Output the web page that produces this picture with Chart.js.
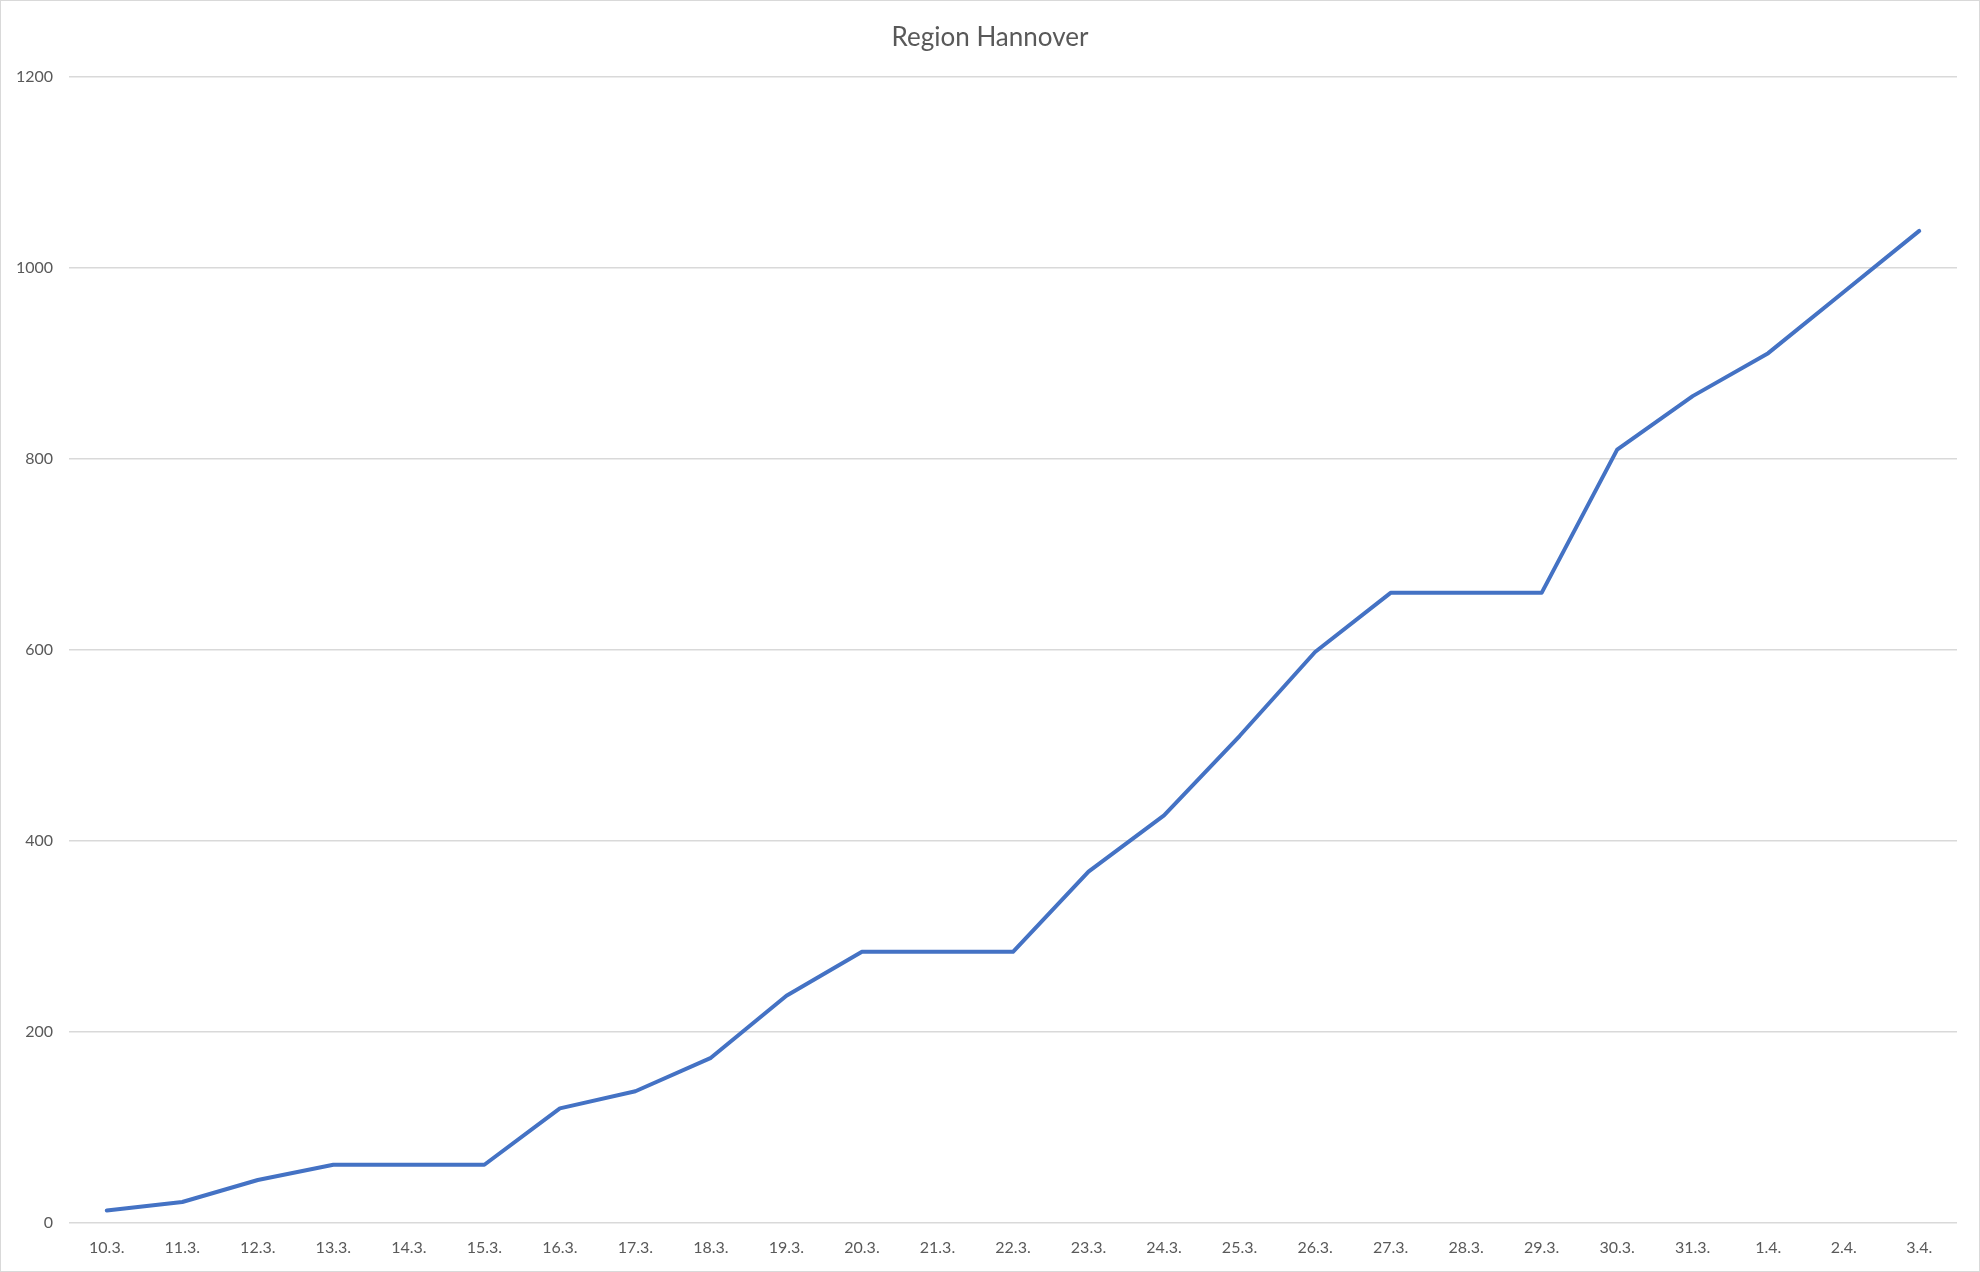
<!DOCTYPE html>
<html>
<head>
<meta charset="utf-8">
<script src="https://cdn.jsdelivr.net/npm/chart.js@4"></script>
<style>
  html, body { margin: 0; padding: 0; background: #fff; }
  #wrap { width: 1980px; height: 1272px; box-sizing: border-box; border: 1px solid #d9d9d9; }
  canvas { display: block; }
</style>
</head>
<body>
<div id="wrap"><canvas id="chart" width="1978" height="1270"></canvas></div>
<script>
// Region Hannover - confirmed cases, 10.3. to 3.4.

const labels = ["10.3.", "11.3.", "12.3.", "13.3.", "14.3.", "15.3.", "16.3.", "17.3.", "18.3.", "19.3.",
  "20.3.", "21.3.", "22.3.", "23.3.", "24.3.", "25.3.", "26.3.", "27.3.", "28.3.", "29.3.",
  "30.3.", "31.3.", "1.4.", "2.4.", "3.4."];
const cases = [13, 22, 45, 61, 61, 61, 120, 138, 173, 238,
  284, 284, 284, 368, 427, 510, 598, 660, 660, 660,
  810, 866, 911, 975, 1039];
const yTicks = [0, 200, 400, 600, 800, 1000, 1200];

const TXT = "#595959";
const GRID = "#d9d9d9";
const BLUE = "#4472c4";

Chart.defaults.font.family = "Lato, 'Open Sans', sans-serif";
Chart.defaults.color = TXT;

new Chart(document.getElementById("chart"), {
  type: "line",
  data: {
    labels,
    datasets: [{
      label: "Region Hannover",
      data: cases,
      borderColor: BLUE,
      borderWidth: 4,
      borderJoinStyle: "round",
      borderCapStyle: "round",
      pointRadius: 0,
      fill: false,
      tension: 0,
    }]
  },
  options: {
    responsive: false,
    animation: false,
    layout: { padding: { left: 11, right: 11, top: 0, bottom: 0 } },
    plugins: {
      legend: { display: false },
      tooltip: { enabled: false },
      title: {
        display: true,
        text: "Region Hannover",
        color: TXT,
        font: { size: 26, weight: "normal" },
        padding: { top: 21, bottom: 24 },
      },
    },
    scales: {
      x: {
        offset: true,
        grid: { display: false, drawTicks: false },
        border: { display: false },
        ticks: { font: { size: 16 }, padding: 15, maxRotation: 0, autoSkip: false },
        afterFit: (s) => { s.height = 48; },
      },
      y: {
        min: 0,
        max: 1200,
        afterBuildTicks: (s) => { s.ticks = yTicks.map(v => ({ value: v })); },
        grid: { color: GRID, lineWidth: 1.5, drawTicks: false },
        border: { display: false },
        ticks: { font: { size: 16 }, padding: 16, callback: (v) => String(v) },
        afterFit: (s) => { s.width = 57; },
      },
      // empty right-hand spacer so the plot ends where the reference does
      spacer: {
        type: "linear",
        position: "right",
        grid: { display: false, drawTicks: false },
        border: { display: false },
        ticks: { display: false },
        afterFit: (s) => { s.width = 11; },
      },
    },
  },
});
</script>
</body>
</html>
